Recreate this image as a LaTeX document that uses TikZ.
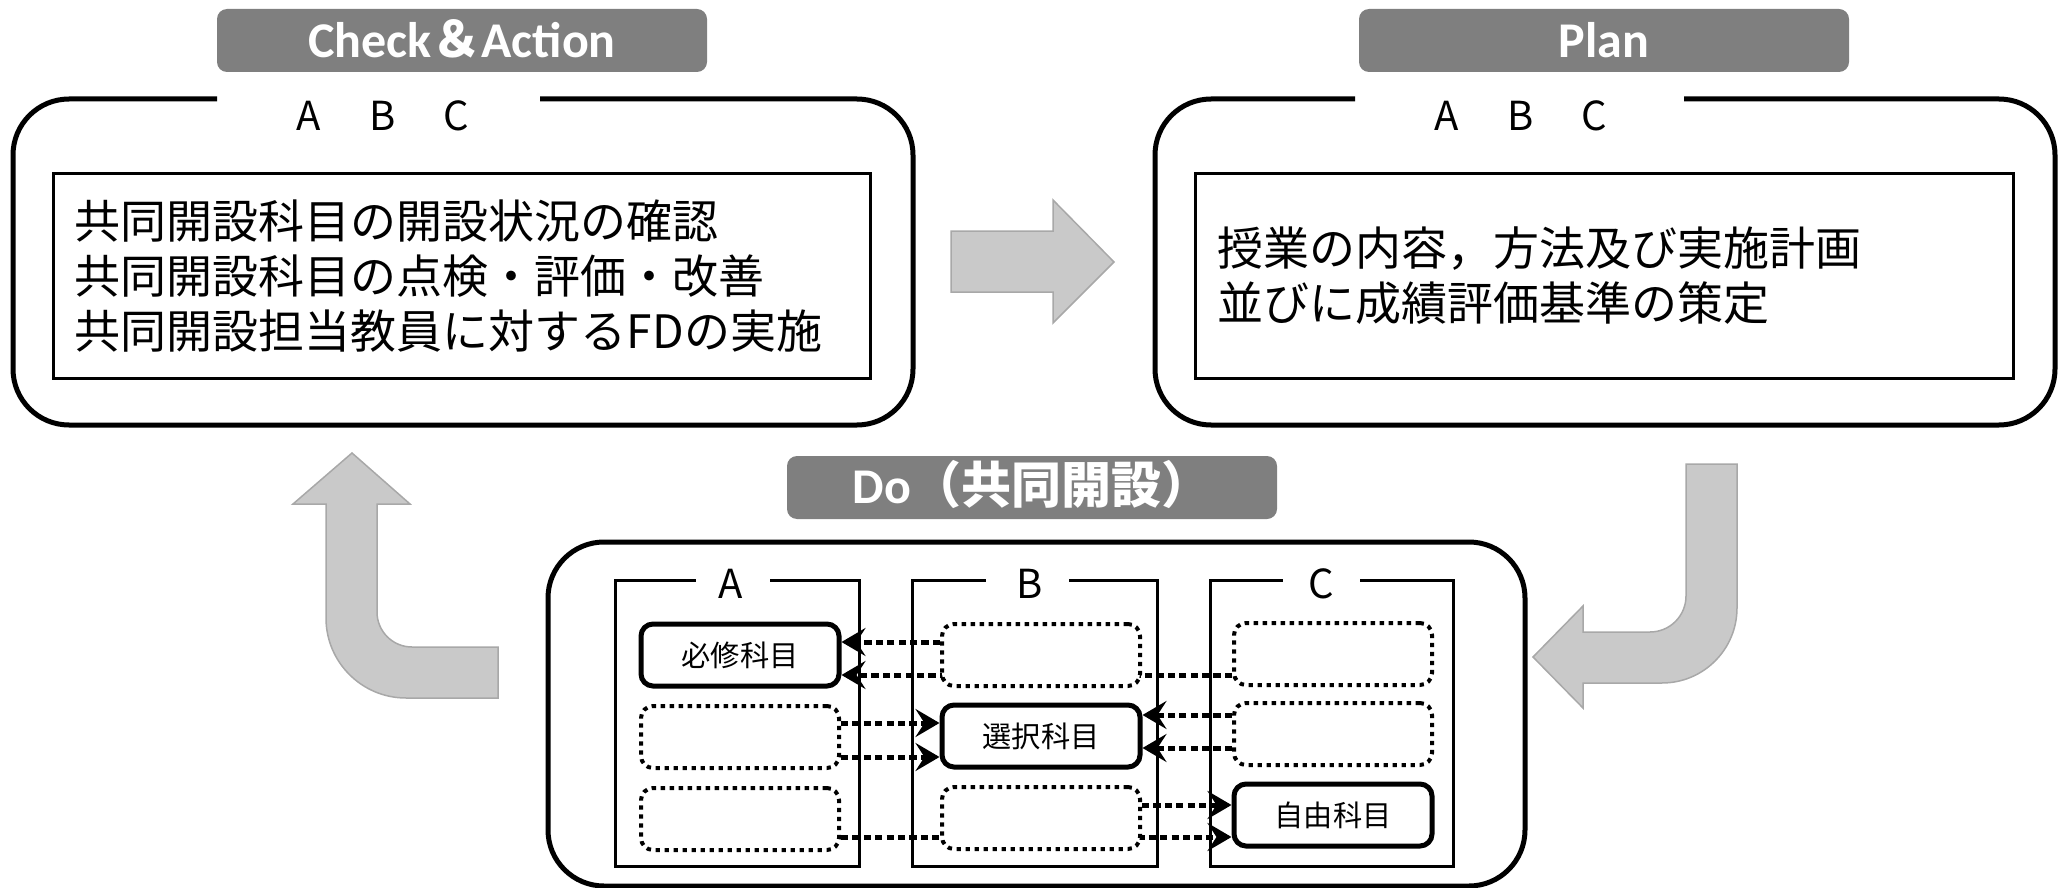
\documentclass[tikz,border=0pt]{standalone}
\usepackage{fontspec}
\newfontfamily\jp{Noto Sans CJK JP}
\newfontfamily\lab{Carlito}
\usetikzlibrary{arrows.meta}
\pgfdeclarelayer{back}
\pgfsetlayers{back,main}
\definecolor{labgray}{RGB}{127,127,127}
\definecolor{arrfill}{RGB}{201,201,201}
\definecolor{arrline}{RGB}{168,168,168}
\tikzset{
  tag/.style={fill=labgray, rounded corners=5pt, minimum width=245pt, minimum height=31.5pt,
    text=white, text height=17pt, text depth=0pt, inner sep=0pt,
    font=\fontsize{25pt}{30pt}\selectfont\bfseries},
  bigbox/.style={draw=black, line width=2.5pt, rounded corners=28pt},
  textframe/.style={draw=black, line width=1.5pt, minimum height=102pt, inner xsep=11pt,
    align=left, font=\jp\fontsize{23pt}{27.5pt}\selectfont},
  abc/.style={font=\jp\fontsize{20pt}{24pt}\selectfont, inner sep=0pt},
  colframe/.style={draw=black, line width=1.5pt},
  collab/.style={font=\jp\fontsize{20pt}{24pt}\selectfont, inner sep=0pt},
  subj/.style={minimum width=99pt, minimum height=31pt, rounded corners=6pt, fill=white,
    font=\jp\fontsize{14.6pt}{17pt}\selectfont},
  solidbox/.style={subj, draw=black, line width=2.5pt},
  dotbox/.style={subj, draw=black, line width=2pt, dash pattern=on 2.2pt off 2.3pt},
  conn/.style={draw=black, line width=2.5pt, dash pattern=on 3.6pt off 2.1pt,
    -{Stealth[length=12pt,width=14pt,inset=4.5pt]}},
  blockarrow/.style={fill=arrfill, draw=arrline, line width=0.75pt}
}
\begin{document}
\begin{tikzpicture}[x=0.5pt,y=-0.5pt]
\useasboundingbox (0,0) rectangle (2063,888);

% ---- labels ----
\node[tag] (tagCA) at (462,40.5) {{\lab Check}{\jp ＆}{\lab Action}};
\node[tag] (tagPlan) at (1604,40.5) {{\lab Plan}};
\node[tag, text height=16pt] (tagDo) at (1032,487.5) {{\lab Do}{\jp （共同開設）}};

% ---- Check & Action box ----
\draw[bigbox] (540,99) -- (913,99) -- (913,425) -- (13,425) -- (13,99) -- (217,99);
\node[abc] (abcCA) at (383,116) {A\hspace{24pt}B\hspace{24pt}C};
\node[textframe, text width=386.5pt] (caText) at (461.5,276)
  {共同開設科目の開設状況の確認\\共同開設科目の点検・評価・改善\\共同開設担当教員に対するFDの実施};

% ---- Plan box ----
\draw[bigbox] (1684,99) -- (2055,99) -- (2055,425) -- (1155,425) -- (1155,99) -- (1355,99);
\node[abc] (abcPlan) at (1521,116) {A\hspace{24pt}B\hspace{24pt}C};
\node[textframe, text width=387pt] (planText) at (1604,276)
  {授業の内容，方法及び実施計画\\並びに成績評価基準の策定};

% ---- Do box ----
\draw[bigbox] (548,542) rectangle (1525,886);
\draw[colframe] (770,580) -- (859,580) -- (859,866) -- (615,866) -- (615,580) -- (696,580);
\draw[colframe] (1069,580) -- (1157,580) -- (1157,866) -- (912,866) -- (912,580) -- (986,580);
\draw[colframe] (1360,580) -- (1453,580) -- (1453,866) -- (1210,866) -- (1210,580) -- (1283,580);
\node[collab] (labA) at (731,584) {A};
\node[collab] (labB) at (1030,584) {B};
\node[collab] (labC) at (1321,584) {C};

\node[solidbox] (A1) at (740,655) {必修科目};
\node[dotbox]   (A2) at (740,737) {};
\node[dotbox]   (A3) at (740,819) {};
\node[dotbox]   (B1) at (1041,655) {};
\node[solidbox] (B2) at (1041,736) {選択科目};
\node[dotbox]   (B3) at (1041,818) {};
\node[dotbox]   (C1) at (1333,654) {};
\node[dotbox]   (C2) at (1333,734) {};
\node[solidbox] (C3) at (1333,815) {自由科目};

\begin{pgfonlayer}{back}
\draw[conn] (B1.west |- 0,642) -- (A1.east |- 0,642);
\draw[conn] (C1.west |- 0,675) -- (A1.east |- 0,675);
\draw[conn] (A2.east |- 0,723) -- (B2.west |- 0,723);
\draw[conn] (A2.east |- 0,757) -- (B2.west |- 0,757);
\draw[conn] (C2.west |- 0,715) -- (B2.east |- 0,715);
\draw[conn] (C2.west |- 0,748) -- (B2.east |- 0,748);
\draw[conn] (B3.east |- 0,805) -- (C3.west |- 0,805);
\draw[conn] (A3.east |- 0,837) -- (C3.west |- 0,837);
\end{pgfonlayer}

% ---- block arrows ----
\draw[blockarrow] (951,231) -- (1053,231) -- (1053,200) -- (1114,262) -- (1053,323)
  -- (1053,292) -- (951,292) -- cycle;
\draw[blockarrow] (1686,464) -- (1737,464) -- (1737,608) arc[start angle=0, end angle=90, radius=75]
  -- (1583,683) -- (1583,708) -- (1533,657) -- (1583,606) -- (1583,632) -- (1650,632)
  arc[start angle=90, end angle=0, radius=36] -- cycle;
\draw[blockarrow] (352,453) -- (410,504) -- (377,504) -- (377,612)
  arc[start angle=180, end angle=90, radius=35] -- (498,647) -- (498,698) -- (406,698)
  arc[start angle=90, end angle=180, radius=80] -- (326,504) -- (293,504) -- cycle;
\end{tikzpicture}
\end{document}
